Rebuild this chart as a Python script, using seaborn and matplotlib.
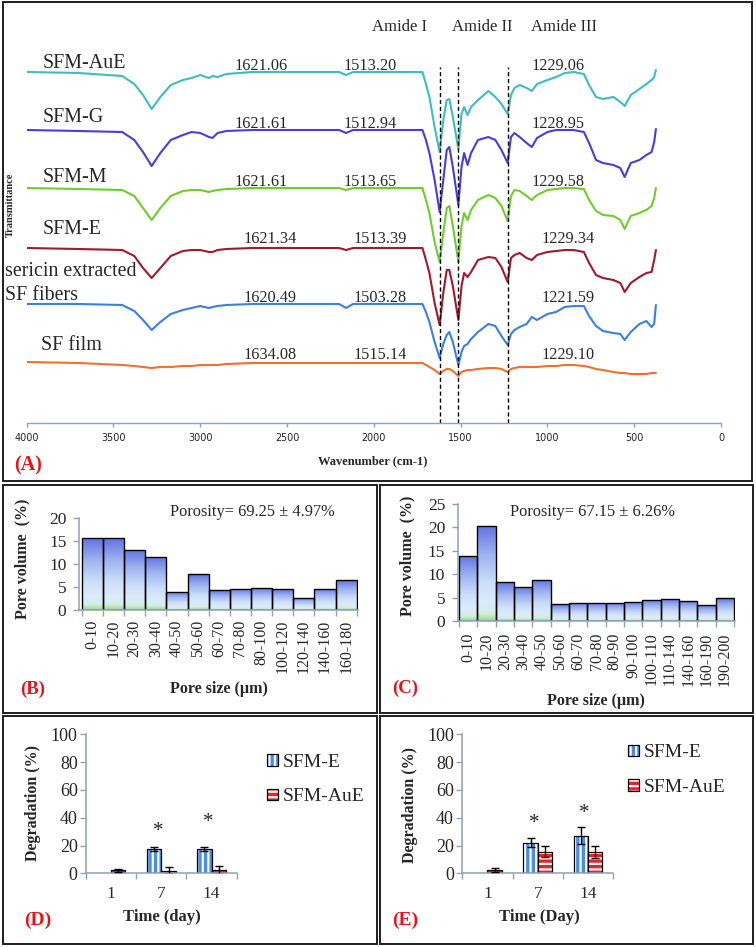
import matplotlib
matplotlib.use('Agg')
import numpy as np
import pandas as pd
import matplotlib.pyplot as plt
import seaborn as sns
from matplotlib.patches import Rectangle, Patch
from matplotlib.colors import to_rgba

# ---------------- data ----------------
wavenumber = [4000, 3700, 3450, 3380, 3330, 3280, 3230, 3170, 3100, 3050,
              3000, 2950, 2930, 2900, 2850, 2700, 2200, 2160, 2120, 1720,
              1700, 1680, 1650, 1621, 1600, 1580, 1565, 1545, 1513, 1495,
              1480, 1460, 1440, 1400, 1340, 1300, 1265, 1229, 1210, 1190,
              1160, 1120, 1090, 1060, 1000, 950, 900, 850, 790, 760,
              720, 680, 620, 580, 555, 520, 470, 430, 400, 385, 375]

t_sfm_aue = [100, 99, 96, 88, 77, 63, 75, 87, 92, 94, 97, 94, 96, 95, 98, 100, 100, 97, 100, 100,
             88, 75, 45, 20, 52, 72, 73, 55, 23, 58, 65, 57, 65, 72, 81, 75, 68, 58, 77, 84,
             87, 84, 81, 88, 92, 95, 99, 100, 98, 87, 75, 73, 75, 70, 66, 77, 83, 88, 92, 95, 102]
t_sfm_g = [100, 99, 98, 90, 78, 64, 77, 90, 95, 98, 97, 93, 92, 97, 99, 100, 100, 97, 100, 100,
           90, 77, 50, 18, 50, 80, 83, 63, 25, 63, 77, 65, 77, 90, 93, 90, 80, 67, 93, 97,
           93, 87, 83, 92, 98, 100, 100, 100, 98, 87, 70, 67, 65, 62, 53, 67, 70, 75, 78, 88, 101]
t_sfm_m = [100, 99, 98, 92, 80, 68, 80, 92, 97, 98, 98, 96, 97, 98, 99, 100, 100, 98, 100, 100,
           88, 75, 46, 26, 55, 80, 82, 62, 26, 62, 75, 68, 78, 88, 93, 90, 82, 67, 92, 98,
           97, 92, 88, 93, 98, 99, 100, 100, 99, 88, 77, 73, 72, 68, 59, 72, 75, 78, 82, 90, 100]
t_sfm_e = [100, 99, 98, 92, 80, 70, 80, 92, 97, 98, 98, 96, 96, 98, 99, 100, 100, 98, 100, 100,
           88, 75, 45, 23, 55, 78, 78, 62, 28, 62, 75, 71, 76, 88, 91, 90, 81, 66, 90, 93,
           95, 90, 88, 93, 96, 97, 98, 98, 96, 85, 73, 70, 68, 65, 56, 65, 71, 75, 76, 88, 98]
t_fibers = [100, 100, 99, 93, 84, 74, 82, 90, 94, 96, 98, 96, 97, 98, 99, 100, 100, 96, 100, 100,
            92, 82, 62, 46, 60, 69, 72, 62, 39, 52, 58, 60, 65, 72, 80, 78, 68, 59, 70, 74,
            77, 80, 87, 84, 90, 92, 97, 98, 98, 88, 78, 73, 71, 70, 64, 72, 80, 83, 77, 80, 99]
t_film = [100, 99, 97, 96, 95, 94, 95, 95, 96, 96, 97, 97, 97, 97, 98, 99, 99, 99, 99, 99,
          97, 95, 92, 88, 91, 93, 93, 91, 86, 90, 91, 92, 92, 93, 94, 94, 93, 90, 93, 94,
          95, 95, 95, 95, 96, 96, 97, 97, 96, 95, 93, 92, 90, 89, 89, 88, 88, 88, 89, 89, 89]

spectra_names = ['SFM-AuE', 'SFM-G', 'SFM-M', 'SFM-E', 'sericin extracted\nSF fibers', 'SF film']
peak_labels = [['1621.06', '1513.20', '1229.06'],
               ['1621.61', '1512.94', '1228.95'],
               ['1621.61', '1513.65', '1229.58'],
               ['1621.34', '1513.39', '1229.34'],
               ['1620.49', '1503.28', '1221.59'],
               ['1634.08', '1515.14', '1229.10']]
amide_positions = [1621, 1513, 1229]
amide_names = ['Amide I', 'Amide II', 'Amide III']

B_cats = ['0-10', '10-20', '20-30', '30-40', '40-50', '50-60', '60-70', '70-80',
          '80-100', '100-120', '120-140', '140-160', '160-180']
B_vals = [15.5, 15.6, 13.1, 11.5, 4.0, 7.8, 4.3, 4.6, 4.8, 4.5, 2.7, 4.6, 6.4]
C_cats = ['0-10', '10-20', '20-30', '30-40', '40-50', '50-60', '60-70', '70-80', '80-90',
          '90-100', '100-110', '110-140', '140-160', '160-190', '190-200']
C_vals = [13.9, 20.4, 8.3, 7.4, 8.9, 3.6, 3.9, 3.9, 4.0, 4.2, 4.5, 4.8, 4.3, 3.4, 4.9]

days = ['1', '7', '14']
groups = ['SFM-E', 'SFM-AuE']
D_e = [0.0, 17.5, 17.5]
D_e_err = [0.0, 1.6, 1.6]
D_aue = [2.2, 2.0, 2.4]
D_aue_err = [1.0, 2.3, 3.1]
D_star = [33.0, 39.6]
E_e = [0.0, 22.1, 27.0]
E_e_err = [0.0, 3.0, 6.2]
E_aue = [2.2, 15.6, 15.1]
E_aue_err = [1.5, 3.8, 4.2]
E_star = [38.8, 46.0]

# ---------------- style ----------------
sns.set_theme(style='ticks')
plt.rcParams['font.family'] = ['Liberation Serif', 'DejaVu Serif']
plt.rcParams['hatch.linewidth'] = 1.6
plt.rcParams['axes.facecolor'] = 'none'

W, H = 756, 947
fig = plt.figure(figsize=(W / 100, H / 100), dpi=100)
fig.patch.set_facecolor('white')

AX_COL = '#8fa1bb'
RED = '#e3141b'


def add_ax(x0, y0, x1, y1):
    return fig.add_axes([x0 / W, 1 - y1 / H, (x1 - x0) / W, (y1 - y0) / H])


def T(x, y, s, size, **kw):
    kw.setdefault('ha', 'center')
    kw.setdefault('va', 'center')
    fig.text(x / W, 1 - y / H, s, fontsize=size, **kw)


def frame(x0, y0, x1, y1):
    fig.add_artist(Rectangle((x0 / W, 1 - y1 / H), (x1 - x0) / W, (y1 - y0) / H,
                             transform=fig.transFigure, fill=False,
                             edgecolor='#1e1e1e', lw=1.4, zorder=10))


def white_hatch(p):
    if hasattr(p, 'set_hatchcolor'):
        try:
            p.set_hatchcolor('white')
            return
        except Exception:
            pass
    p._hatch_color = to_rgba('white')


# panel frames
frame(3, 2, 752, 481)
frame(3, 485, 377, 713)
frame(380, 485, 753, 713)
frame(3, 716, 377, 944)
frame(380, 716, 753, 944)

# ---------------- Panel A: FTIR ----------------
axA = add_ax(26.7, 5, 721, 423)
spectra = [t_sfm_aue, t_sfm_g, t_sfm_m, t_sfm_e, t_fibers, t_film]
colors = ['#3dbdbd', '#4a3cd8', '#6fcd2a', '#a3182a', '#3a80e2', '#f0702c']
offsets = [351, 293, 235, 175, 119, 61]
for vals, col, off in zip(spectra, colors, offsets):
    df = pd.DataFrame({'wn': wavenumber, 'T': np.array(vals, float) - 100 + off})
    sns.lineplot(data=df, x='wn', y='T', ax=axA, color=col, lw=1.5, sort=False, estimator=None)
axA.vlines(amide_positions, 0, 356, colors='black', linestyles=(0, (3, 2)), lw=1.0)
axA.set_xlim(4000, 0)
axA.set_ylim(0, 418)
for s in ['top', 'right', 'left']:
    axA.spines[s].set_visible(False)
axA.spines['bottom'].set_color(AX_COL)
axA.spines['bottom'].set_linewidth(1.0)
axA.set_xticks(range(0, 4001, 500))
axA.set_yticks([])
axA.tick_params(axis='x', direction='out', length=3, width=1, color=AX_COL, pad=4,
                labelsize=6.9, labelcolor='#222222')
for lab in axA.get_xticklabels():
    lab.set_fontfamily('DejaVu Sans')
axA.set_xlabel('')
axA.set_ylabel('')

for name, x in zip(amide_names, [400, 482, 564]):
    T(x, 27, name, 12)
label_pos = [(43, 63), (43, 117), (43, 177), (43, 230), None, (41, 345)]
for name, pos in zip(spectra_names, label_pos):
    if pos is None:
        T(5, 272, 'sericin extracted', 14.4, ha='left')
        T(5, 295, 'SF fibers', 14.4, ha='left')
    else:
        T(pos[0], pos[1], name, 14.4, ha='left')
peak_rows = [66, 124, 182, 239, 298, 355]
for i, (labs, yy) in enumerate(zip(peak_labels, peak_rows)):
    xs = [261, 370, 558] if i < 3 else [270, 380, 568]
    for lab, xx in zip(labs, xs):
        T(xx, yy, lab, 11.7)
T(10, 205, 'Transmittance', 7.5, rotation=90, fontweight='bold')
T(373, 461, 'Wavenumber (cm-1)', 9, fontweight='bold')
T(28, 465, '(A)', 14.5, fontweight='bold', color=RED)

# ---------------- Panels B, C: pore size ----------------
stops = np.array([[0.38, 0.45, 0.88],
                  [0.62, 0.70, 0.94],
                  [0.80, 0.87, 0.98],
                  [0.86, 0.92, 0.99],
                  [0.84, 0.93, 0.90],
                  [0.62, 0.84, 0.58]])
pos = np.array([0.0, 0.3, 0.6, 0.8, 0.93, 1.0])
tt = np.linspace(0, 1, 64)
GRAD = np.stack([np.interp(tt, pos, stops[:, k]) for k in range(3)], axis=1)[:, None, :]


def pore_panel(box, cats, vals, ymax, xlim, pad):
    ax = add_ax(*box)
    sns.barplot(x=cats, y=vals, ax=ax, width=1.0, color='#8090e0', saturation=1,
                edgecolor='black', linewidth=1.0, errorbar=None)
    for p in list(ax.patches):
        x0, w, h = p.get_x(), p.get_width(), p.get_height()
        im = ax.imshow(GRAD, extent=[x0, x0 + w, 0, h], aspect='auto', zorder=0.9,
                       interpolation='bilinear')
        im.set_clip_path(p)
        p.set_facecolor('none')
        p.set_zorder(1.5)
    ax.set_xlim(*xlim)
    ax.set_ylim(0, ymax)
    ax.set_yticks(np.arange(0, ymax + 1, 5))
    for s in ['top', 'right']:
        ax.spines[s].set_visible(False)
    for s in ['left', 'bottom']:
        ax.spines[s].set_color(AX_COL)
        ax.spines[s].set_linewidth(1.1)
    ax.set_xticks(np.arange(-0.5, len(cats), 1.0), minor=True)
    ax.tick_params(axis='x', which='major', length=0, pad=pad, labelsize=11.5, rotation=90)
    ax.tick_params(axis='x', which='minor', length=4, width=1, color=AX_COL, direction='out')
    ax.tick_params(axis='y', length=4, width=1, color=AX_COL, pad=5, labelsize=12.5)
    ax.set_xlabel('')
    ax.set_ylabel('')
    return ax


pore_panel((79, 517.7, 358, 610), B_cats, B_vals, 20, (-0.63, 12.56), 7)
pore_panel((457.7, 504, 735, 621.3), C_cats, C_vals, 25, (-0.57, 14.55), 8)

T(22, 559, 'Pore volume  (%)', 11.5, rotation=90, fontweight='bold')
T(252, 512, 'Porosity= 69.25 \u00b1 4.97%', 11.8)
T(219, 689, 'Pore size (\u00b5m)', 11.5, fontweight='bold')
T(33, 689, '(B)', 13.5, fontweight='bold', color=RED)

T(407, 556, 'Pore volume  (%)', 11.5, rotation=90, fontweight='bold')
T(592, 512, 'Porosity= 67.15 \u00b1 6.26%', 11.8)
T(596, 701, 'Pore size (\u00b5m)', 11.5, fontweight='bold')
T(405, 688, '(C)', 13.5, fontweight='bold', color=RED)

# ---------------- Panels D, E: degradation ----------------
BLUE_BAR = '#4a8ee8'
RED_BAR = '#e8232a'


def degr_panel(box, e, e_err, aue, aue_err, stars, leg_xy):
    ax = add_ax(*box)
    df = pd.DataFrame({'day': days * 2,
                       'group': [groups[0]] * 3 + [groups[1]] * 3,
                       'val': list(e) + list(aue)})
    sns.barplot(data=df, x='day', y='val', hue='group', order=days, hue_order=groups,
                palette=[BLUE_BAR, RED_BAR], saturation=1, width=0.57,
                edgecolor='black', linewidth=0.9, errorbar=None, legend=False, ax=ax)
    bars = list(ax.patches)
    errs = list(e_err) + list(aue_err)
    vals = list(e) + list(aue)
    xs, ys, es = [], [], []
    for i, p in enumerate(bars):
        p.set_hatch('|||' if i < 3 else '---')
        white_hatch(p)
        if p.get_height() == 0:
            p.set_linewidth(0)
            p.set_hatch(None)
        if errs[i] > 0:
            xs.append(p.get_x() + p.get_width() / 2)
            ys.append(vals[i])
            es.append(errs[i])
    ax.errorbar(xs, ys, yerr=es, fmt='none', ecolor='black', elinewidth=1.0,
                capsize=3, capthick=1.0, zorder=4)
    for k, sy in enumerate(stars):
        ax.text(k + 1 - 0.07, sy - 3, '*', ha='center', va='center', fontsize=15)
    ax.set_xlim(-0.5, 2.5)
    ax.set_ylim(0, 100)
    ax.set_yticks(range(0, 101, 20))
    for s in ['top', 'right']:
        ax.spines[s].set_visible(False)
    for s in ['left', 'bottom']:
        ax.spines[s].set_color(AX_COL)
        ax.spines[s].set_linewidth(1.1)
    ax.set_xticks([-0.5, 0.5, 1.5, 2.5], minor=True)
    ax.tick_params(axis='x', which='major', length=0, pad=9, labelsize=12.5)
    ax.tick_params(axis='x', which='minor', length=4, width=1, color=AX_COL, direction='out')
    ax.tick_params(axis='y', length=4, width=1, color=AX_COL, pad=2, labelsize=13)
    ax.set_xlabel('')
    ax.set_ylabel('')
    handles = []
    for g, c, h in zip(groups, [BLUE_BAR, RED_BAR], ['|||', '---']):
        hp = Patch(facecolor=c, edgecolor='black', hatch=h, linewidth=0.9, label=g)
        white_hatch(hp)
        handles.append(hp)
    leg = ax.legend(handles=handles, loc='center left', bbox_to_anchor=(leg_xy[0] / W, 1 - leg_xy[1] / H),
                    bbox_transform=fig.transFigure, frameon=False, fontsize=14,
                    handlelength=0.55, handleheight=0.55, handletextpad=0.25,
                    labelspacing=0.9, borderpad=0, borderaxespad=0)
    for lp in leg.get_patches():
        white_hatch(lp)
    return ax


degr_panel((86, 734.3, 236.7, 873.3), D_e, D_e_err, D_aue, D_aue_err, D_star, (267, 779.5))
degr_panel((462.3, 734.3, 613.3, 873.3), E_e, E_e_err, E_aue, E_aue_err, E_star, (628, 770))

T(33, 803, 'Degradation (%)', 11.5, rotation=90, fontweight='bold')
T(162, 917, 'Time (day)', 12, fontweight='bold')
T(38, 920, '(D)', 14, fontweight='bold', color=RED)

T(410, 805, 'Degradation (%)', 11.5, rotation=90, fontweight='bold')
T(539, 917, 'Time (Day)', 12, fontweight='bold')
T(405, 920, '(E)', 14, fontweight='bold', color=RED)

fig.savefig('out.png', dpi=100, facecolor='white')
